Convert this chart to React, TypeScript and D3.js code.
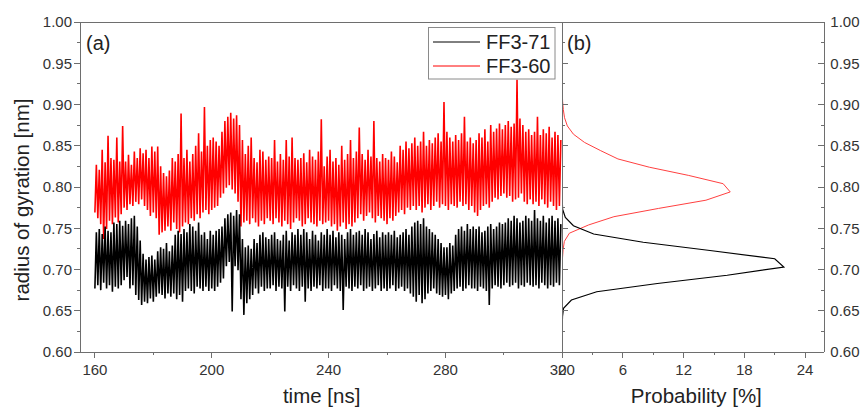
import React from "react";
import * as d3 from "d3";

// ---- time series (per-ns lower / upper excursions), t = 160..319 ns
const T0 = 160;
const redHi = [
  .827,.821,.845,.830,.862,.835,.833,.860,.831,.874,
  .831,.839,.827,.843,.835,.847,.841,.845,.835,.849,
  .843,.849,.825,.817,.813,.820,.835,.831,.840,.889,
  .835,.845,.831,.840,.850,.865,.843,.897,.850,.857,
  .860,.855,.850,.867,.880,.885,.890,.883,.887,.875,
  .857,.840,.850,.860,.835,.830,.845,.843,.833,.837,
  .835,.857,.831,.840,.833,.857,.837,.860,.835,.833,
  .835,.841,.830,.845,.837,.833,.843,.882,.825,.837,
  .845,.831,.835,.827,.850,.833,.840,.857,.835,.843,
  .872,.840,.833,.845,.837,.880,.835,.831,.840,.835,
  .833,.843,.837,.830,.850,.845,.855,.847,.853,.860,
  .850,.855,.867,.850,.857,.853,.860,.865,.855,.903,
  .867,.860,.855,.863,.857,.865,.885,.855,.860,.853,
  .857,.865,.860,.870,.855,.875,.867,.871,.877,.870,
  .875,.880,.873,.877,.930,.883,.875,.867,.870,.863,
  .867,.885,.863,.870,.865,.873,.860,.867,.863,.857,
];
const redLo = [
  .769,.762,.755,.737,.749,.759,.755,.763,.757,.767,
  .775,.772,.779,.777,.782,.779,.785,.777,.772,.765,
  .769,.762,.742,.745,.747,.752,.747,.757,.749,.745,
  .752,.757,.755,.762,.759,.767,.762,.769,.772,.767,
  .772,.775,.777,.787,.792,.799,.802,.797,.792,.782,
  .752,.757,.759,.755,.762,.757,.752,.759,.755,.762,
  .759,.755,.762,.757,.752,.759,.755,.749,.757,.762,
  .759,.752,.755,.762,.757,.755,.752,.759,.755,.757,
  .759,.752,.755,.747,.752,.757,.749,.755,.752,.757,
  .762,.767,.759,.765,.769,.762,.757,.765,.762,.759,
  .755,.762,.759,.765,.769,.772,.767,.775,.772,.777,
  .772,.777,.769,.775,.779,.772,.777,.782,.775,.779,
  .777,.772,.779,.777,.775,.782,.777,.779,.772,.777,
  .769,.765,.772,.777,.779,.775,.782,.787,.785,.789,
  .792,.787,.789,.782,.785,.787,.792,.782,.779,.785,
  .779,.782,.777,.785,.779,.775,.782,.777,.772,.777,
];
const blackHi = [
  .745,.749,.743,.752,.747,.745,.757,.755,.759,.753,
  .759,.755,.762,.765,.752,.735,.719,.712,.715,.717,
  .712,.722,.727,.725,.732,.722,.729,.742,.747,.743,
  .749,.745,.755,.752,.747,.757,.742,.745,.737,.747,
  .742,.747,.749,.752,.762,.767,.769,.765,.772,.767,
  .737,.727,.729,.725,.737,.732,.742,.745,.739,.737,
  .742,.745,.737,.735,.742,.747,.735,.745,.742,.749,
  .742,.749,.745,.737,.747,.742,.735,.745,.742,.749,
  .742,.747,.739,.745,.742,.737,.745,.749,.742,.745,
  .747,.742,.749,.745,.737,.743,.747,.739,.745,.742,
  .745,.742,.747,.739,.742,.745,.749,.742,.752,.757,
  .759,.755,.762,.752,.749,.745,.742,.737,.732,.727,
  .727,.732,.729,.742,.749,.752,.747,.755,.749,.752,
  .749,.752,.745,.747,.752,.755,.749,.752,.757,.755,
  .757,.762,.759,.765,.762,.757,.759,.765,.762,.759,
  .772,.762,.759,.765,.757,.762,.765,.759,.762,.755,
];
const blackLo = [
  .677,.681,.675,.684,.677,.681,.673,.679,.677,.681,
  .687,.691,.677,.681,.669,.663,.657,.661,.659,.665,
  .661,.667,.671,.669,.665,.671,.667,.671,.664,.669,
  .661,.674,.677,.674,.671,.679,.677,.674,.679,.674,
  .677,.674,.679,.684,.689,.704,.709,.649,.704,.699,
  .664,.645,.659,.664,.669,.677,.671,.679,.674,.677,
  .677,.681,.674,.679,.677,.649,.679,.674,.681,.677,
  .674,.679,.661,.677,.674,.679,.677,.681,.674,.677,
  .677,.674,.681,.677,.674,.651,.679,.677,.674,.679,
  .677,.681,.674,.677,.679,.674,.677,.681,.674,.677,
  .674,.677,.681,.674,.677,.679,.674,.677,.671,.667,
  .661,.669,.659,.664,.671,.674,.677,.671,.669,.667,
  .669,.664,.671,.674,.677,.679,.674,.677,.681,.677,
  .677,.674,.679,.677,.674,.657,.677,.681,.679,.677,
  .681,.684,.679,.681,.684,.677,.681,.679,.684,.681,
  .679,.681,.677,.684,.681,.677,.681,.679,.684,.681,
];

// ---- distributions (panel b)
const blackBins = [.633,.643,.653,.663,.673,.683,.693,.703,.713,.723,.733,.743,.753,.763,.773,.783];
const blackProb = [0,0.02,0.12,0.9,3.4,9.4,16.3,21.9,21.0,14.6,8.0,3.1,1.1,0.3,0.03,0];
const redBins = [.704,.714,.724,.734,.744,.754,.764,.774,.784,.794,.804,.814,.824,.834,.844,.854,.864,.874,.884,.894,.904,.914];
const redProb = [0,0.02,0.08,0.2,0.7,2.6,5.1,9.5,14.2,16.6,15.9,12.5,8.6,5.5,3.8,2.2,1.1,0.5,0.22,0.1,0.03,0];

// ---- ticks
const yMajor = [0.60,0.65,0.70,0.75,0.80,0.85,0.90,0.95,1.00];
const yMinor = [0.625,0.675,0.725,0.775,0.825,0.875,0.925,0.975];
const tMajor = [160,200,240,280,320];
const tMinor = [180,220,260,300];
const pMajor = [0,6,12,18,24];
const pMinor = [3,9,15,21];

const seriesNames = ["FF3-71","FF3-60"];
const seriesColors = ["#000000","#ff0000"];

const FONT = "'Liberation Sans', Arial, Helvetica, sans-serif";
const AX = "#6e6e6e";
const TXT = "#333333";

export default function App() {
  const left = 80, mid = 562.3, right = 824.3, top = 22, bottom = 352;
  const xA = d3.scaleLinear().domain([154.9, 320]).range([left, mid]);
  const xB = d3.scaleLinear().domain([0, 25.9]).range([mid, right]);
  const y = d3.scaleLinear().domain([0.6, 1.0]).range([bottom, top]);

  const zig = (lo: number[], hi: number[]) =>
    lo.flatMap((v, i) => [[T0 + i, v], [T0 + i + 0.5, hi[i]]] as [number, number][]);
  const tsLine = d3.line<[number, number]>().x(d => xA(d[0])).y(d => y(d[1]));
  const redPath = tsLine(zig(redLo, redHi)) || "";
  const blackPath = tsLine(zig(blackLo, blackHi)) || "";

  const histLine = d3.line<[number, number]>().x(d => xB(d[1])).y(d => y(d[0]));
  const blackHist = histLine(blackBins.map((b, i) => [b, blackProb[i]] as [number, number])) || "";
  const redHist = histLine(redBins.map((b, i) => [b, redProb[i]] as [number, number])) || "";

  const fmt = d3.format(".2f");

  return (
    <svg width={866} height={409} style={{ position: "absolute", left: 0, top: 0, background: "#fff" }} fontFamily={FONT}>
      <rect x={0} y={0} width={866} height={409} fill="#fff" />
      <defs>
        <clipPath id="clipA"><rect x={left} y={top} width={mid - left} height={bottom - top} /></clipPath>
        <clipPath id="clipB"><rect x={mid} y={top} width={right - mid} height={bottom - top} /></clipPath>
      </defs>

      {/* time series */}
      <g clipPath="url(#clipA)" strokeLinejoin="miter" strokeMiterlimit={2}>
        <path d={redPath} fill="none" stroke={seriesColors[1]} strokeWidth={1.6} />
        <path d={blackPath} fill="none" stroke={seriesColors[0]} strokeWidth={1.6} />
      </g>

      {/* distributions */}
      <g clipPath="url(#clipB)">
        <path d={redHist} fill="none" stroke="#ff4040" strokeWidth={1} />
        <path d={blackHist} fill="none" stroke="#000" strokeWidth={1.2} />
      </g>

      {/* frame */}
      <g stroke={AX} strokeWidth={1} fill="none" shapeRendering="crispEdges">
        <line x1={left} x2={right} y1={top} y2={top} />
        <line x1={left} x2={right} y1={bottom} y2={bottom} />
        <line x1={left} x2={left} y1={top} y2={bottom} />
        <line x1={mid} x2={mid} y1={top} y2={bottom} />
        <line x1={right} x2={right} y1={top} y2={bottom} />
        {yMajor.map(v => <line key={"yl" + v} x1={left - 6} x2={left} y1={y(v)} y2={y(v)} />)}
        {yMinor.map(v => <line key={"ylm" + v} x1={left - 3} x2={left} y1={y(v)} y2={y(v)} />)}
        {yMajor.map(v => <line key={"ym" + v} x1={mid} x2={mid + 6} y1={y(v)} y2={y(v)} />)}
        {yMinor.map(v => <line key={"ymm" + v} x1={mid} x2={mid + 3} y1={y(v)} y2={y(v)} />)}
        {yMajor.map(v => <line key={"yr" + v} x1={right - 6} x2={right} y1={y(v)} y2={y(v)} />)}
        {yMinor.map(v => <line key={"yrm" + v} x1={right - 3} x2={right} y1={y(v)} y2={y(v)} />)}
        {tMajor.map(v => <line key={"tx" + v} x1={xA(v)} x2={xA(v)} y1={bottom} y2={bottom + 6} />)}
        {tMinor.map(v => <line key={"txm" + v} x1={xA(v)} x2={xA(v)} y1={bottom} y2={bottom + 3} />)}
        {pMajor.map(v => <line key={"px" + v} x1={xB(v)} x2={xB(v)} y1={bottom} y2={bottom + 6} />)}
        {pMinor.map(v => <line key={"pxm" + v} x1={xB(v)} x2={xB(v)} y1={bottom} y2={bottom + 3} />)}
      </g>

      {/* tick labels */}
      <g fill={TXT} fontSize={15}>
        {yMajor.map(v => (
          <text key={"lyl" + v} x={left - 8} y={y(v)} dy="0.36em" textAnchor="end">{fmt(v)}</text>
        ))}
        {yMajor.map(v => (
          <text key={"lyr" + v} x={right + 6} y={y(v)} dy="0.36em" textAnchor="start">{fmt(v)}</text>
        ))}
        {tMajor.map(v => (
          <text key={"ltx" + v} x={xA(v)} y={bottom + 23} textAnchor="middle">{v}</text>
        ))}
        {pMajor.map(v => (
          <text key={"lpx" + v} x={xB(v)} y={bottom + 23} textAnchor="middle">{v}</text>
        ))}
      </g>

      {/* axis titles */}
      <g fill="#222" fontSize={20.5}>
        <text x={(left + mid) / 2 + 0.5} y={403} textAnchor="middle">time [ns]</text>
        <text x={(mid + right) / 2 + 3} y={403} textAnchor="middle">Probability [%]</text>
        <text transform={`translate(29,200) rotate(-90)`} textAnchor="middle">radius of gyration [nm]</text>
      </g>

      {/* panel labels */}
      <g fill="#222" fontSize={20}>
        <text x={86} y={50}>(a)</text>
        <text x={567} y={50}>(b)</text>
      </g>

      {/* legend */}
      <g>
        <rect x={428.5} y={27.5} width={126.5} height={51.5} fill="#fff" stroke="#8a8a8a" strokeWidth={1} />
        {seriesNames.map((n, i) => (
          <g key={n}>
            <line x1={433} x2={480} y1={42 + i * 24} y2={42 + i * 24} stroke={seriesColors[i]} strokeWidth={1} />
            <text x={486} y={49 + i * 24} fontSize={20} fill="#222">{n}</text>
          </g>
        ))}
      </g>
    </svg>
  );
}
